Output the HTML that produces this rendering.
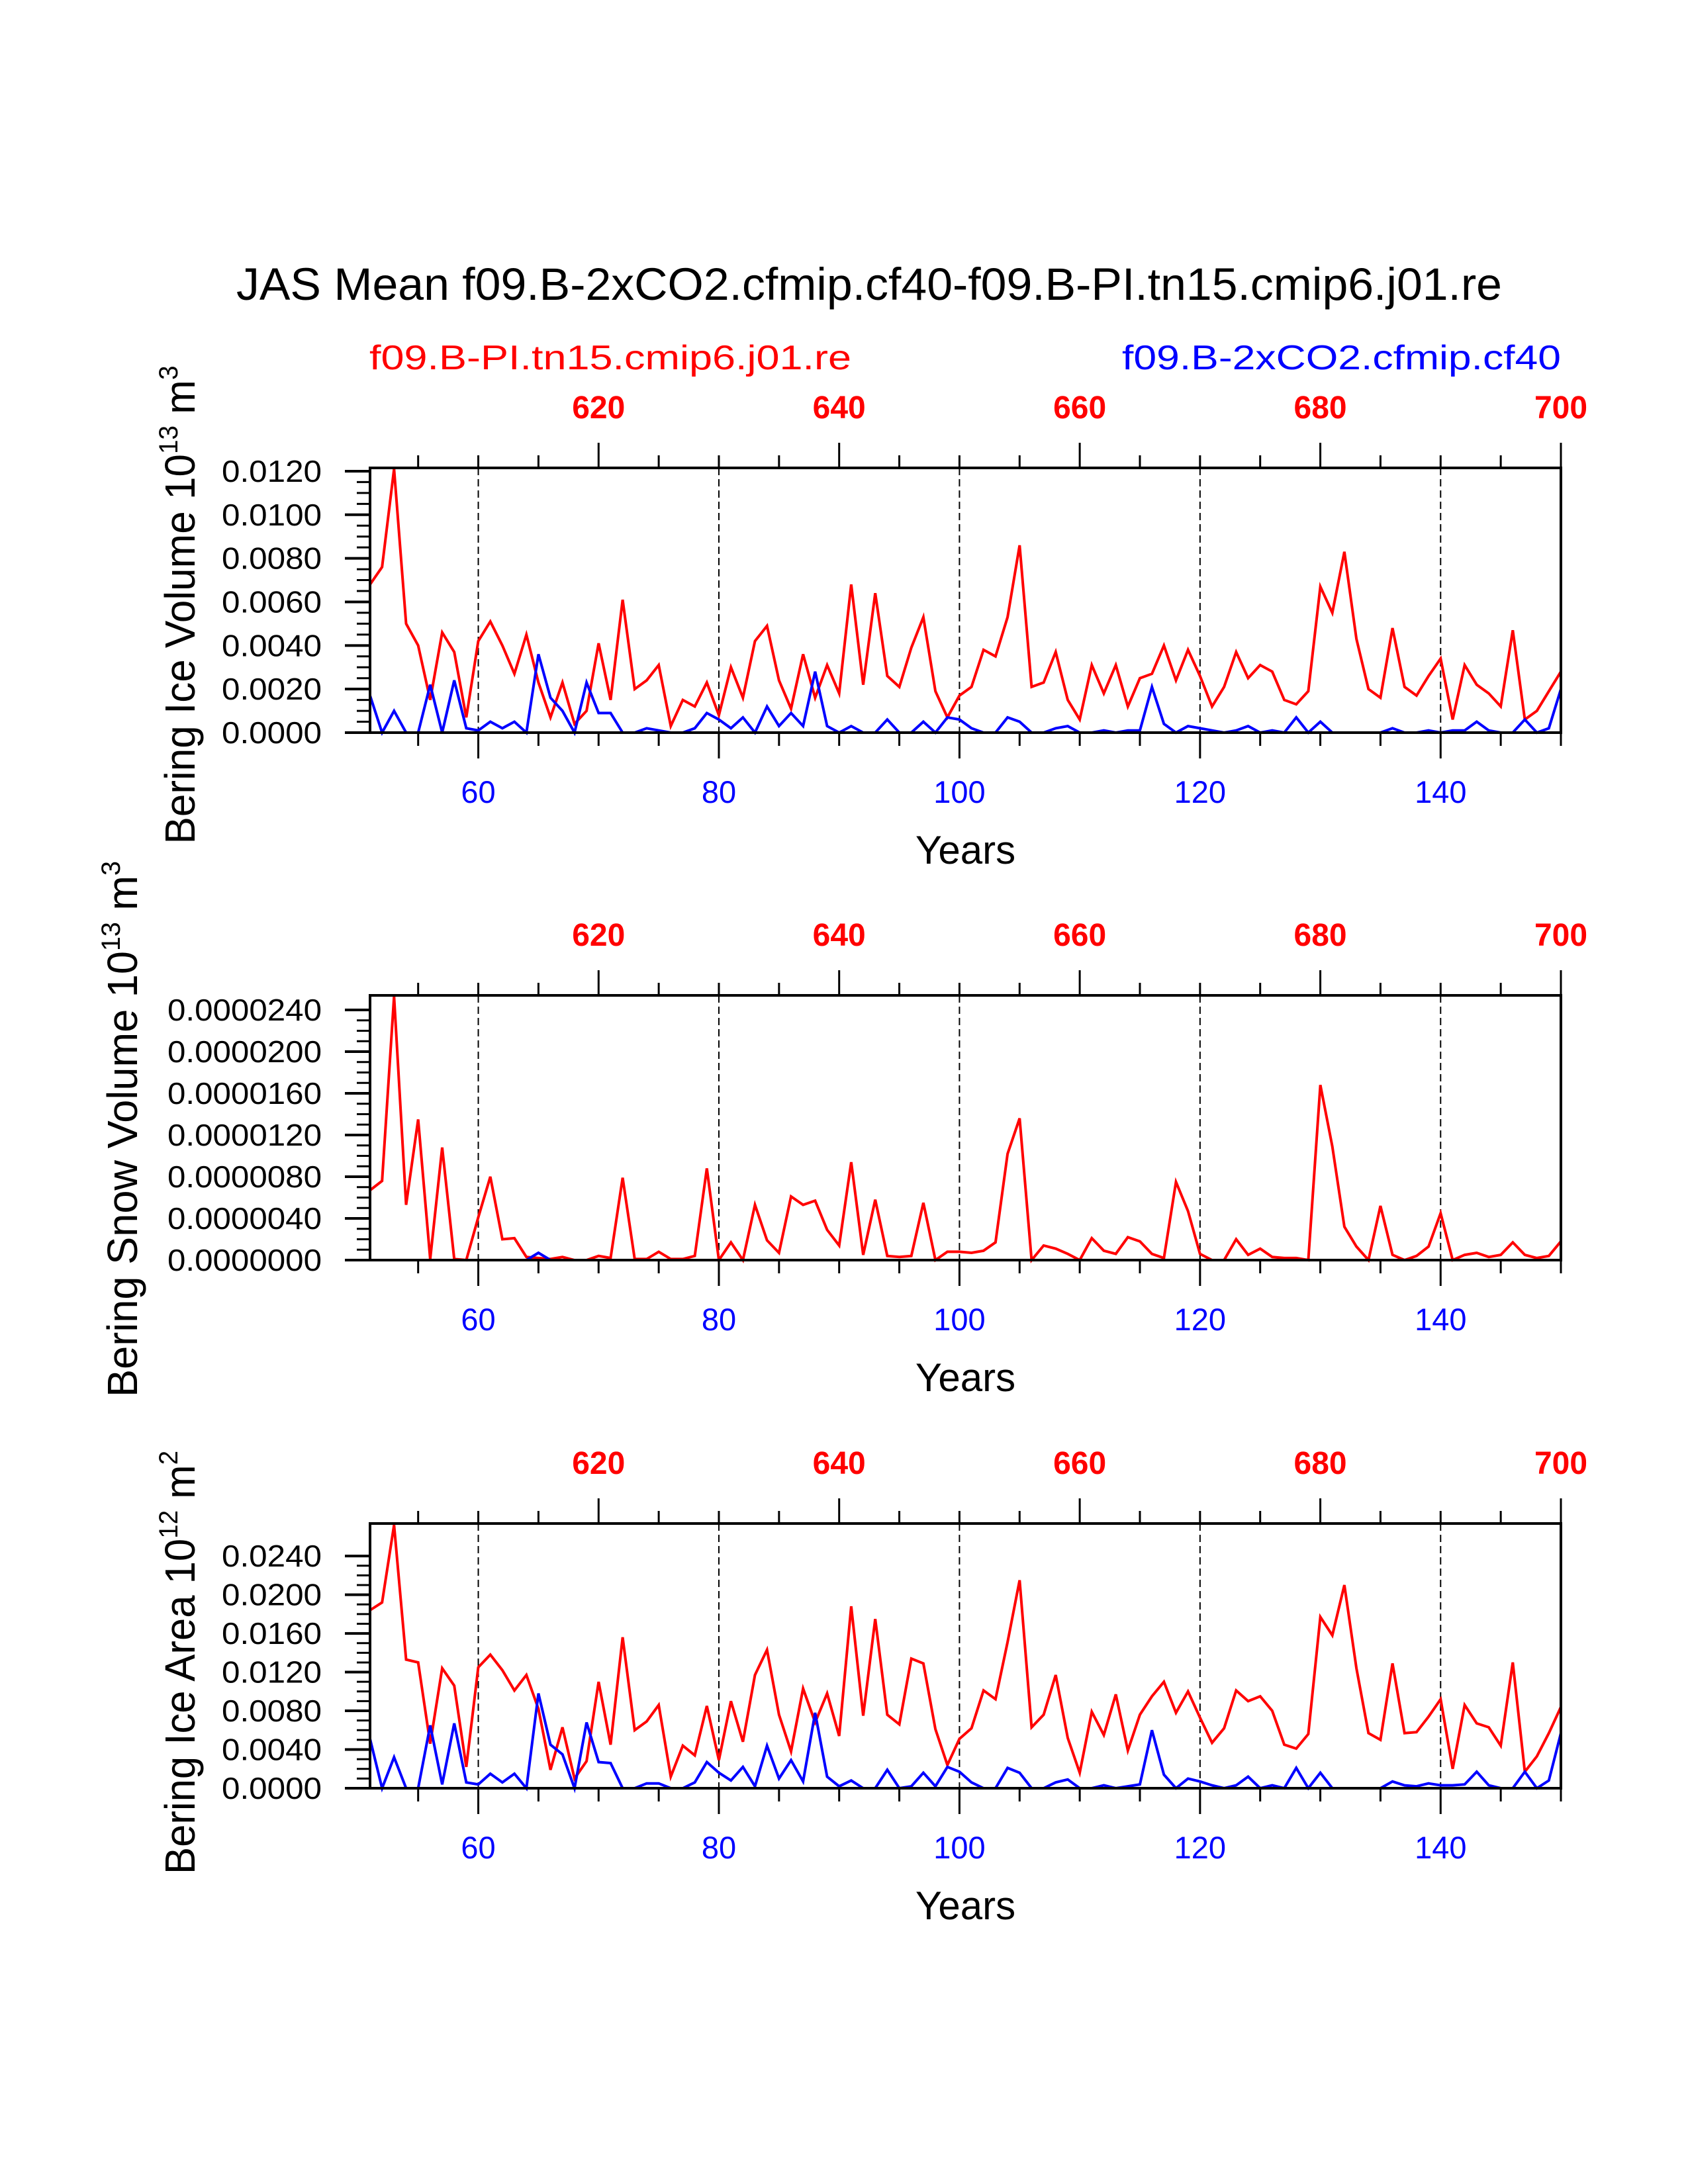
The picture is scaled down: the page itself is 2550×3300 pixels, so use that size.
<!DOCTYPE html>
<html><head><meta charset="utf-8"><title>Bering JAS Mean</title>
<style>html,body{margin:0;padding:0;background:#fff}svg{display:block}</style>
</head><body>
<svg id="chart" xmlns="http://www.w3.org/2000/svg" width="2550" height="3300" viewBox="0 0 2550 3300" font-family="'Liberation Sans', Arial, sans-serif">
<rect width="2550" height="3300" fill="#fff"/>
<text x="357" y="453" font-size="69" textLength="1912" lengthAdjust="spacingAndGlyphs">JAS Mean f09.B-2xCO2.cfmip.cf40-f09.B-PI.tn15.cmip6.j01.re</text>
<text x="558" y="558" font-size="52" fill="#ff0000" textLength="728" lengthAdjust="spacingAndGlyphs">f09.B-PI.tn15.cmip6.j01.re</text>
<text x="2358" y="558" font-size="52" fill="#0000ff" text-anchor="end" textLength="663" lengthAdjust="spacingAndGlyphs">f09.B-2xCO2.cfmip.cf40</text>
</svg>
<script>
// ---- data ----
const years = [];
for (let y = 51; y <= 150; y++) years.push(y);
const iceVolPI = [6.8,7.6,12.1,5.0,4.0,1.5,4.6,3.7,0.7,4.2,5.1,4.0,2.7,4.5,2.3,0.7,2.3,0.4,1.0,4.1,1.5,6.1,2.0,2.4,3.1,0.3,1.5,1.2,2.3,0.8,3.0,1.6,4.2,4.9,2.4,1.1,3.6,1.6,3.1,1.8,6.8,2.2,6.4,2.6,2.1,3.9,5.3,1.9,0.7,1.7,2.1,3.8,3.5,5.3,8.6,2.1,2.3,3.7,1.5,0.6,3.1,1.8,3.1,1.2,2.5,2.7,4.0,2.4,3.8,2.6,1.2,2.1,3.7,2.5,3.1,2.8,1.5,1.3,1.9,6.7,5.5,8.3,4.3,2.0,1.6,4.8,2.1,1.7,2.6,3.4,0.6,3.1,2.2,1.8,1.2,4.7,0.6,1.0,1.9,2.8];
const iceVol2x = [1.7,0,1.0,0,0,2.2,0,2.4,0.2,0.1,0.5,0.2,0.5,0,3.6,1.6,1.0,0,2.3,0.9,0.9,0,0,0.2,0.1,0,0,0.2,0.9,0.6,0.2,0.7,0,1.2,0.3,0.9,0.3,2.8,0.3,0,0.3,0,0,0.6,0,0,0.5,0,0.7,0.6,0.2,0,0,0.7,0.5,0,0,0.2,0.3,0,0,0.1,0,0.1,0.1,2.1,0.4,0,0.3,0.2,0.1,0,0.1,0.3,0,0.1,0,0.7,0,0.5,0,0,0,0,0,0.2,0,0,0.1,0,0.1,0.1,0.5,0.1,0,0,0.6,0,0.2,2.0];
const snowVolPI = [6.7,7.6,25.3,5.3,13.5,0.1,10.8,0.1,0,4.1,8.0,2.0,2.1,0.3,0.2,0.1,0.3,0,0,0.4,0.2,7.9,0.1,0.1,0.8,0.1,0.1,0.4,8.8,0,1.7,0,5.3,1.9,0.7,6.1,5.3,5.7,2.9,1.4,9.4,0.5,5.8,0.4,0.3,0.4,5.5,0,0.8,0.8,0.7,0.9,1.7,10.2,13.6,0,1.4,1.1,0.6,0,2.1,0.9,0.6,2.2,1.8,0.6,0.2,7.5,4.7,0.6,0,0,2.0,0.5,1.1,0.3,0.2,0.2,0,16.8,10.9,3.2,1.3,0,5.2,0.5,0,0.4,1.3,4.5,0,0.5,0.7,0.3,0.5,1.7,0.5,0.2,0.4,1.8];
const snowVol2x = [0,0,0,0,0,0,0,0,0,0,0,0,0,0,0.7,0,0,0,0,0,0,0,0,0,0,0,0,0,0,0,0,0,0,0,0,0,0,0,0,0,0,0,0,0,0,0,0,0,0,0,0,0,0,0,0,0,0,0,0,0,0,0,0,0,0,0,0,0,0,0,0,0,0,0,0,0,0,0,0,0,0,0,0,0,0,0,0,0,0,0,0,0,0,0,0,0,0,0,0,0];
const iceAreaPI = [18.4,19.2,27.2,13.3,13.0,4.6,12.4,10.6,2.2,12.5,13.8,12.2,10.1,11.7,8.2,1.9,6.3,1.0,2.8,11.0,4.5,15.6,6.0,6.9,8.6,1.2,4.4,3.4,8.5,2.9,9.0,4.8,11.7,14.3,7.6,3.8,10.3,6.8,9.8,5.4,18.8,7.5,17.5,7.6,6.6,13.4,12.9,6.1,2.4,5.1,6.2,10.1,9.2,15.1,21.5,6.3,7.6,11.7,5.2,1.6,7.9,5.5,9.7,3.9,7.6,9.5,11.0,7.8,10.0,7.3,4.7,6.2,10.1,9.0,9.5,8.0,4.5,4.1,5.6,17.7,15.8,21.0,12.4,5.7,5.0,12.9,5.7,5.8,7.4,9.2,2.0,8.6,6.7,6.3,4.4,13.0,1.7,3.3,5.7,8.4];
const iceArea2x = [5.1,0,3.2,0,0,6.5,0.4,6.7,0.6,0.4,1.5,0.6,1.5,0,9.8,4.5,3.5,0,6.8,2.7,2.6,0,0,0.5,0.5,0,0,0.6,2.7,1.6,0.8,2.2,0.2,4.4,1.0,2.9,0.7,7.8,1.2,0.2,0.8,0,0,1.9,0,0.2,1.6,0.2,2.2,1.7,0.6,0,0,2.1,1.6,0,0,0.6,0.9,0,0,0.3,0,0.2,0.4,6.0,1.4,0,1.0,0.7,0.3,0,0.3,1.2,0,0.3,0,2.1,0,1.6,0,0,0,0,0,0.7,0.3,0.2,0.5,0.3,0.3,0.4,1.7,0.3,0,0,1.7,0,0.8,5.7];
const bottomTicks = [60,80,100,120,140];
const topTickLabels = ['620','640','660','680','700'];
const iceVolTicks = ['0.0000','0.0020','0.0040','0.0060','0.0080','0.0100','0.0120'];
const snowVolTicks = ['0.0000000','0.0000040','0.0000080','0.0000120','0.0000160','0.0000200','0.0000240'];
const iceAreaTicks = ['0.0000','0.0040','0.0080','0.0120','0.0160','0.0200','0.0240'];

const NS = 'http://www.w3.org/2000/svg';
const svg = document.getElementById('chart');
function mk(tag, attrs, parent) {
  const e = document.createElementNS(NS, tag);
  for (const k in attrs) e.setAttribute(k, attrs[k]);
  (parent || svg).appendChild(e);
  return e;
}
const X0 = 559, X1 = 2358;
function xScale(yr) { return X0 + (yr - 51) * (X1 - X0) / 99; }

function panel(cfg) {
  const g = mk('g', {});
  
  
  const top = cfg.top, bot = cfg.top + 400;
  const yScale = v => bot - v / cfg.max * 400;
  // dashed gridlines
  bottomTicks.forEach(t => {
    const l = mk('line', {x1: xScale(t), x2: xScale(t), y1: top, y2: bot, stroke: '#000', 'stroke-width': 2, 'stroke-dasharray': '11 6'}, g);
    
    
  });
  // series
  function series(vals, color, nm) {
    const pts = vals.map((v, i) => xScale(years[i]).toFixed(1) + ',' + yScale(v * cfg.unit).toFixed(1)).join(' ');
    const p = mk('polyline', {points: pts, fill: 'none', stroke: color, 'stroke-width': 4, 'stroke-linejoin': 'miter'}, g);
    
    
  }
  series(cfg.red, '#ff0000', 'series-pi-control');
  series(cfg.blue, '#0000ff', 'series-2xco2');
  // box
  const box = mk('rect', {x: X0, y: top, width: X1 - X0, height: 400, fill: 'none', stroke: '#000', 'stroke-width': 4}, g);
  
  
  // bottom and top ticks every 5 years
  for (let yr = 55; yr <= 150; yr += 5) {
    const x = xScale(yr);
    const major = (yr % 20 === 0 && yr <= 140);
    mk('line', {x1: x, x2: x, y1: bot, y2: bot + (major ? 39 : 20), stroke: '#000', 'stroke-width': 3}, g);
    const tmaj = ((yr - 70) % 20 === 0 && yr >= 70);
    mk('line', {x1: x, x2: x, y1: top, y2: top - (tmaj ? 38 : 19), stroke: '#000', 'stroke-width': 3}, g);
  }
  bottomTicks.forEach(t => {
    const tx = mk('text', {x: xScale(t), y: bot + 106, 'font-size': 47, fill: '#0000ff', 'text-anchor': 'middle'}, g);
    
    
    tx.textContent = String(t);
  });
  topTickLabels.forEach((lab, i) => {
    const tx = mk('text', {x: xScale(70 + 20 * i), y: top - 75, 'font-size': 48, 'font-weight': 'bold', fill: '#ff0000', 'text-anchor': 'middle'}, g);
    
    
    tx.textContent = lab;
  });
  const xt = mk('text', {x: (X0 + X1) / 2, y: bot + 198, 'font-size': 60, 'text-anchor': 'middle'}, g);
  
  
  xt.textContent = 'Years';
  // y ticks
  const nMinor = 24;
  for (let k = 0; k <= nMinor; k++) {
    const v = k * cfg.step / 4;
    if (v > cfg.max) break;
    const y = yScale(v);
    const major = k % 4 === 0;
    mk('line', {x1: X0, x2: X0 - (major ? 38 : 20), y1: y, y2: y, stroke: '#000', 'stroke-width': major ? 4 : 3}, g);
  }
  cfg.ticks.forEach((lab, i) => {
    const tx = mk('text', {x: 486, y: yScale(i * cfg.step) + 16, 'font-size': 46, 'text-anchor': 'end', textLength: lab.length > 6 ? 233 : 151, lengthAdjust: 'spacingAndGlyphs'}, g);
    
    
    tx.textContent = lab;
  });
  // y title
  const yt = mk('text', {transform: 'translate(' + cfg.tx + ',' + cfg.tcy + ') rotate(-90)', 'font-size': 64, 'text-anchor': 'middle', textLength: cfg.tlen, lengthAdjust: 'spacingAndGlyphs'}, g);
  
  
  const a = mk('tspan', {}, yt); a.textContent = cfg.title + ' 10';
  const b = mk('tspan', {dy: -26, 'font-size': 40}, yt); b.textContent = cfg.exp;
  const c = mk('tspan', {dy: 26}, yt); c.textContent = ' m';
  const d = mk('tspan', {dy: -26, 'font-size': 40}, yt); d.textContent = cfg.mexp;
}

panel({name: 'panel-ice-volume', top: 707, max: 0.01215, step: 0.002, unit: 0.001, red: iceVolPI, blue: iceVol2x, ticks: iceVolTicks, title: 'Bering Ice Volume', exp: '13', mexp: '3', tx: 294, tcy: 914, tlen: 723});
panel({name: 'panel-snow-volume', top: 1504, max: 0.0000254, step: 0.000004, unit: 0.000001, red: snowVolPI, blue: snowVol2x, ticks: snowVolTicks, title: 'Bering Snow Volume', exp: '13', mexp: '3', tx: 207, tcy: 1706, tlen: 810});
panel({name: 'panel-ice-area', top: 2302, max: 0.02736, step: 0.004, unit: 0.001, red: iceAreaPI, blue: iceArea2x, ticks: iceAreaTicks, title: 'Bering Ice Area', exp: '12', mexp: '2', tx: 294, tcy: 2512, tlen: 640});
</script>
</body></html>
